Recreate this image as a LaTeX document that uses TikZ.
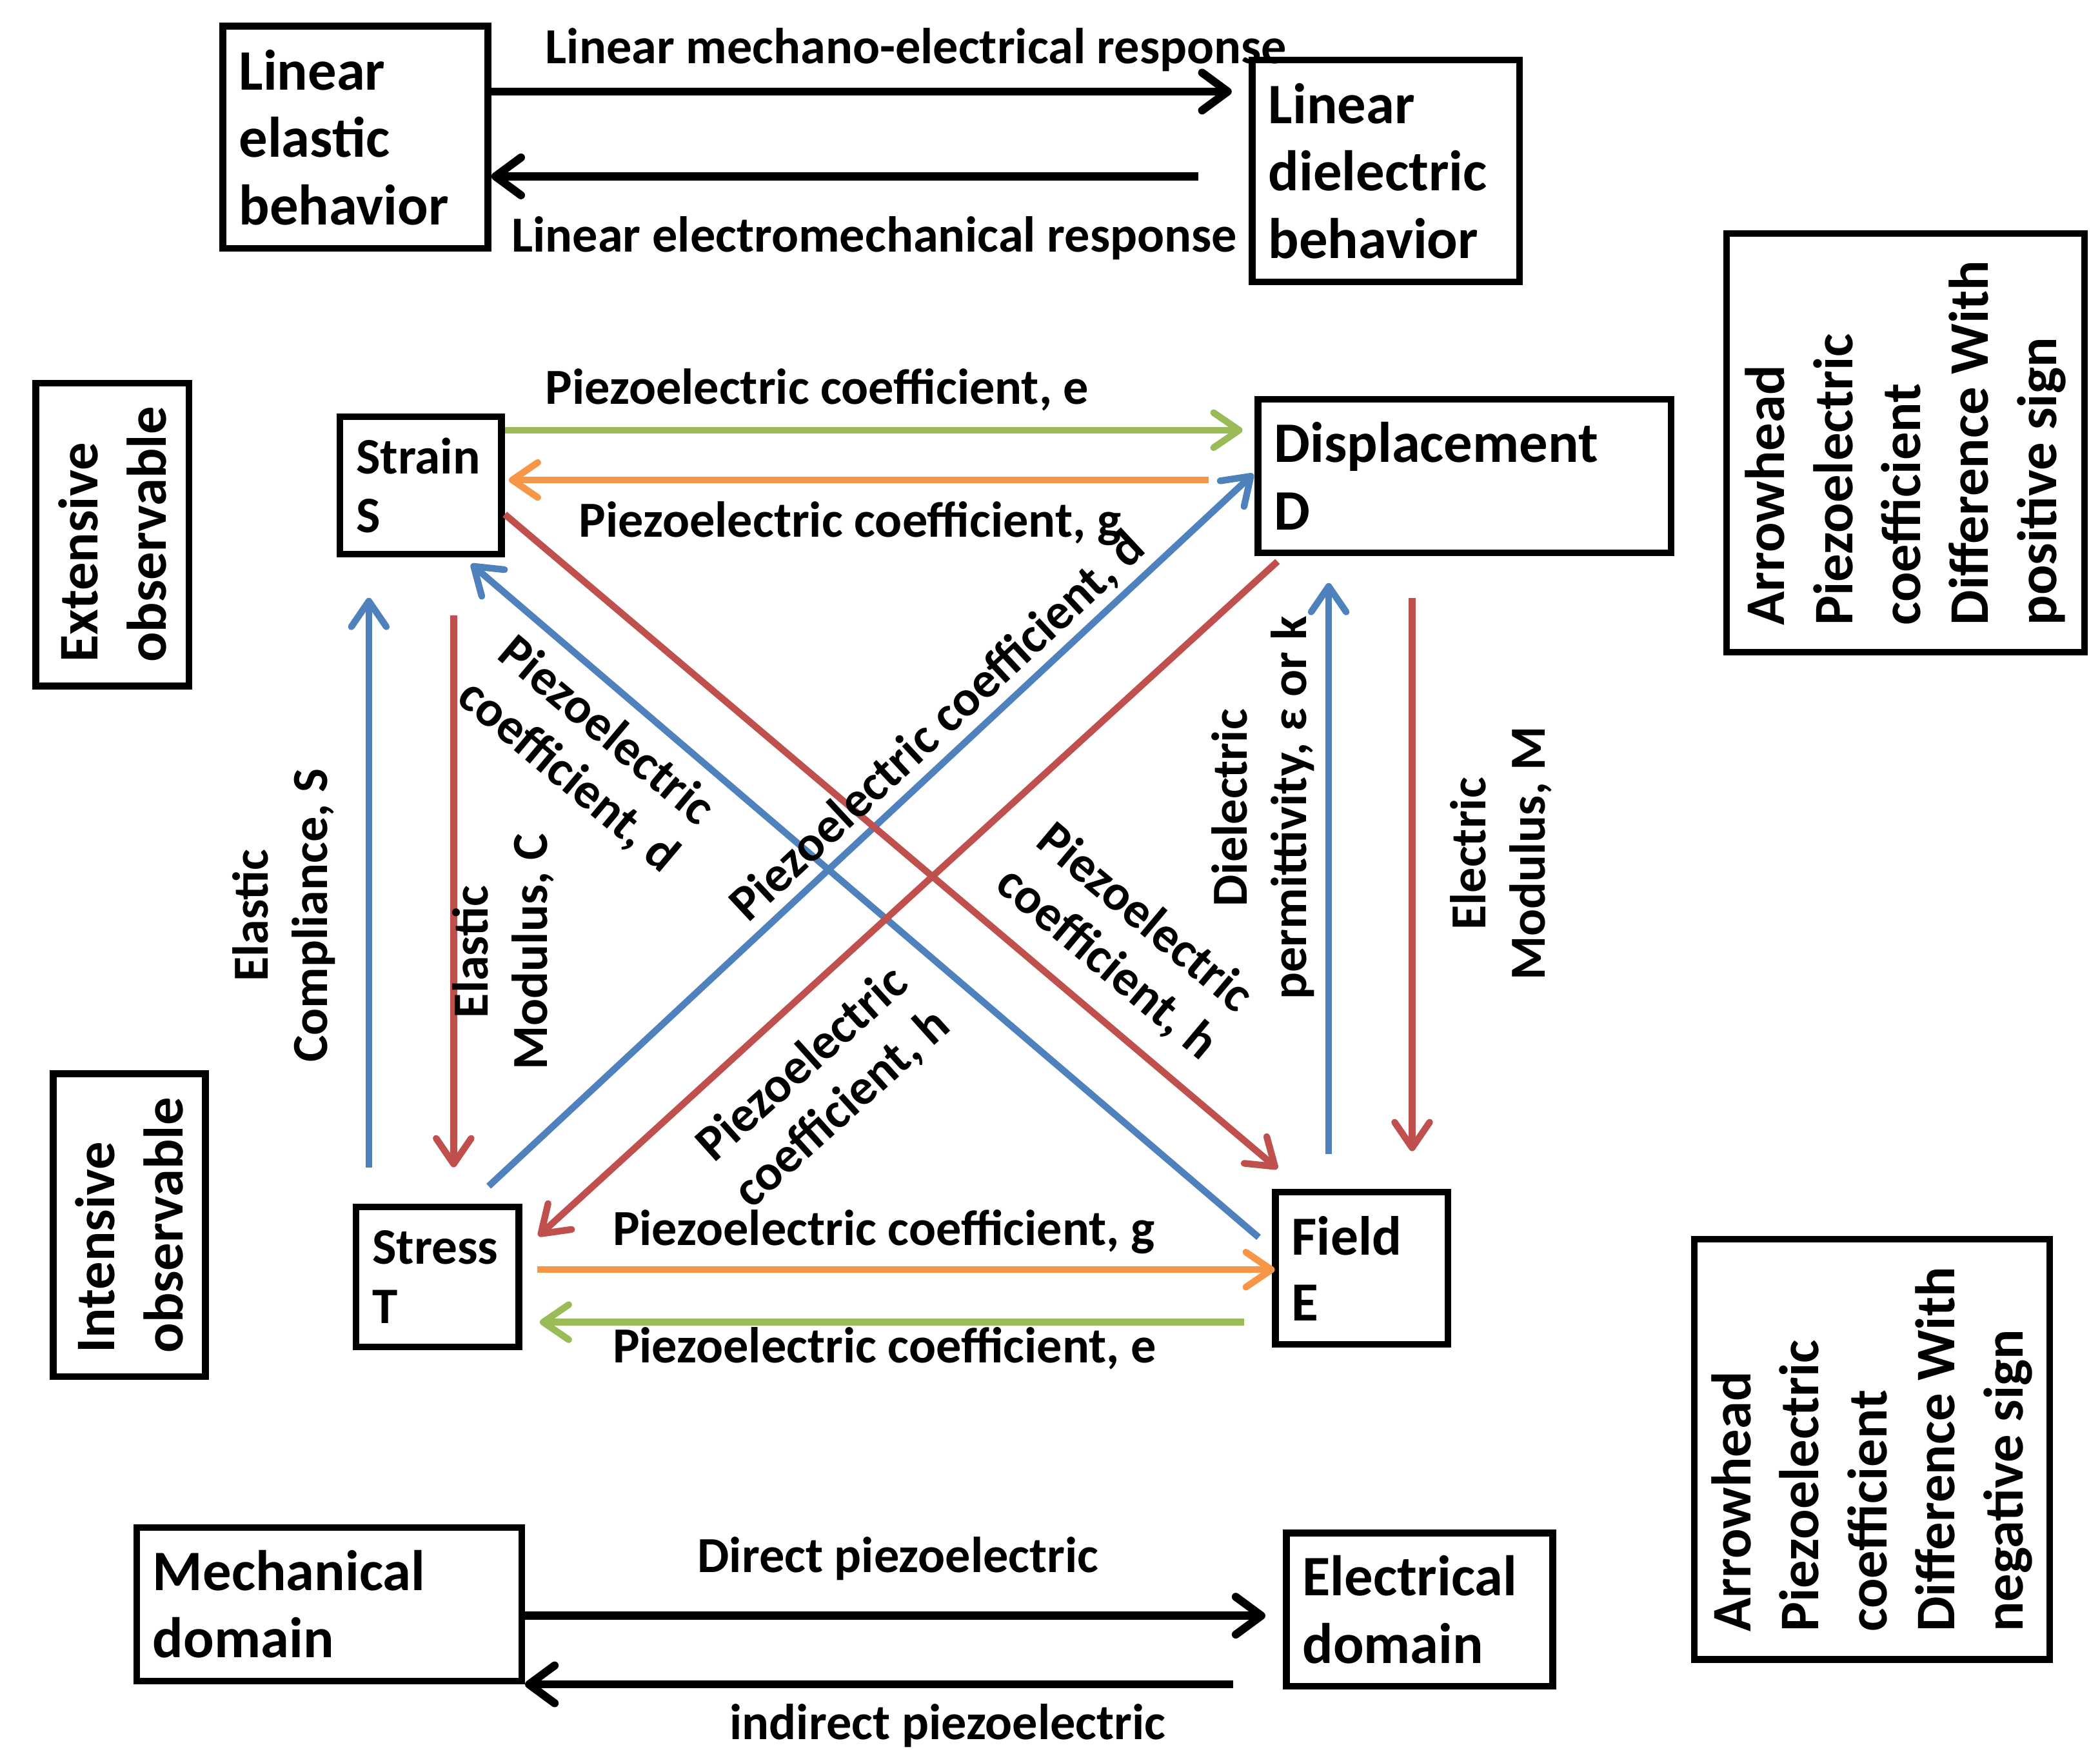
\documentclass[tikz,border=0pt]{standalone}
\usepackage{fontspec}
\setmainfont{Carlito}
\usetikzlibrary{arrows.meta,calc}
\definecolor{cgreen}{HTML}{9BBB59}
\definecolor{corange}{HTML}{F79646}
\definecolor{cblue}{HTML}{4F81BD}
\definecolor{cred}{HTML}{C0504D}
\begin{document}
\begin{tikzpicture}[x=1pt,y=-1pt,
  box/.style={draw=black, line width=5pt, inner xsep=12pt, inner ysep=0pt, align=left,
    font=\fontsize{42.5}{50}\selectfont\bfseries},
  rbox/.style={draw=black, line width=5pt, inner sep=0pt, align=left, rotate=90,
    font=\fontsize{41.5}{50.5}\selectfont\bfseries},
  lab/.style={inner sep=0pt, anchor=base west, font=\fontsize{37.5}{44}\selectfont\bfseries},
  rlab/.style={inner sep=0pt, align=center, font=\fontsize{37.5}{44}\selectfont\bfseries},
  col/.style={line width=5pt, -{Straight Barb[length=19pt,width=26pt,round]}},
  blk/.style={line width=6pt, -{Straight Barb[length=19pt,width=28pt,round]}},
]
\useasboundingbox (0,0) rectangle (1560,1309);

% boxes
\node[box, text width=173pt, minimum width=197pt, minimum height=165pt] (E1) at (264,102) {Linear\\elastic\\behavior};
\node[box, text width=174.5pt, minimum width=198.5pt, minimum height=165pt] (E2) at (1029.5,127) {Linear\\dielectric\\behavior};
\node[box, text width=96pt, minimum width=120pt, minimum height=102pt, font=\fontsize{38}{44}\selectfont\bfseries] (S) at (312.5,360.5) {Strain\\S};
\node[box, text width=283pt, minimum width=307pt, minimum height=114pt] (D) at (1088,353.5) {Displacement\\D};
\node[box, text width=97pt, minimum width=121pt, minimum height=104pt, font=\fontsize{38}{44}\selectfont\bfseries] (T) at (325,948.5) {Stress\\T};
\node[box, text width=104pt, minimum width=128pt, minimum height=113pt, font=\fontsize{41}{49}\selectfont\bfseries] (F) at (1011.5,942) {Field\\E};
\node[box, text width=262pt, minimum width=286pt, minimum height=114pt] (M) at (244.5,1191.5) {Mechanical\\domain};
\node[box, text width=174pt, minimum width=198pt, minimum height=114pt] (L) at (1054.5,1195.5) {Electrical\\domain};

\node[rbox, minimum width=225pt, minimum height=114pt] (ext) at (83.5,397) {Extensive\\observable};
\node[rbox, minimum width=225pt, minimum height=113pt] (int) at (96,910) {Intensive\\observable};
\node[rbox, minimum width=311pt, minimum height=266pt] (pos) at (1415.5,329) {Arrowhead\\Piezoelectric\\coefficient\\Difference With\\positive sign};
\node[rbox, minimum width=312pt, minimum height=264pt] (neg) at (1390.5,1076.5) {Arrowhead\\Piezoelectric\\coefficient\\Difference With\\negative sign};

% black arrows
\draw[blk] ($(E1.center)+(101,-34)$) -- ($(E2.center)+(-114.5,-59)$);
\draw[blk] ($(E2.center)+(-139.5,4)$) -- ($(E1.center)+(101,29)$);
\draw[blk] ($(M.center)+(145.5,8.5)$) -- ($(L.center)+(-114.5,4.5)$);
\draw[blk] ($(L.center)+(-138.5,55.5)$) -- ($(M.center)+(145.5,59.5)$);

% coloured arrows
\draw[col, cgreen] ($(S.center)+(62.5,-41)$) -- ($(D.center)+(-165,-34)$);
\draw[col, corange] ($(D.center)+(-190,3)$) -- ($(S.center)+(65.5,-4)$);
\draw[col, cblue] ($(T.center)+(38,-67.5)$) -- ($(D.center)+(-157,-1.5)$);
\draw[col, cred] ($(S.center)+(62.5,21.5)$) -- ($(F.center)+(-62.5,-74)$);
\draw[col, cblue] ($(F.center)+(-76.5,-23)$) -- ($(S.center)+(37.5,58.5)$);
\draw[col, cred] ($(D.center)+(-139,63.5)$) -- ($(T.center)+(75,-30.5)$);
\draw[col, cblue] ($(T.center)+(-51,-81.5)$) -- ($(S.center)+(-38.5,83.5)$);
\draw[col, cred] ($(S.center)+(24.5,96.5)$) -- ($(T.center)+(12,-81.5)$);
\draw[col, cblue] ($(F.center)+(-24.5,-85)$) -- ($(D.center)+(-101,79.5)$);
\draw[col, cred] ($(D.center)+(-39,90.5)$) -- ($(F.center)+(37.5,-87)$);
\draw[col, corange] ($(T.center)+(74,-5.5)$) -- ($(F.center)+(-64.5,1)$);
\draw[col, cgreen] ($(F.center)+(-87.5,40)$) -- ($(T.center)+(76,33.5)$);

% labels
\node[lab] (l1) at (405,47) {Linear mechano-electrical response};
\node[lab] (l2) at (380,187) {Linear electromechanical response};
\node[lab] (l3) at (405,300) {Piezoelectric coefficient, e};
\node[lab] (l4) at (430,399) {Piezoelectric coefficient, g};
\node[lab] (l5) at (455,925) {Piezoelectric coefficient, g};
\node[lab] (l6) at (455,1012) {Piezoelectric coefficient, e};
\node[lab] (l7) at (518,1168) {Direct piezoelectric};
\node[lab] (l8) at (542,1292) {indirect piezoelectric};

\node[rlab, rotate=90] (r1) at (211,680) {Elastic\\Compliance, S};
\node[rlab, rotate=90] (r2) at (374,707) {Elastic\\Modulus, C};
\node[rlab, rotate=90] (r3) at (938,600) {Dielectric\\permittivity, ε or k};
\node[rlab, rotate=90] (r4) at (1115,634) {Electric\\Modulus, M};
\node[rlab, rotate=43] (d1) at (697,540) {Piezoelectric coefficient, d};
\node[rlab, rotate=-40] (d2) at (436,560) {Piezoelectric\\coefficient, d};
\node[rlab, rotate=-40] (h1) at (836,699) {Piezoelectric\\coefficient, h};
\node[rlab, rotate=42] (h2) at (611,807) {Piezoelectric\\coefficient, h};
\end{tikzpicture}
\end{document}
